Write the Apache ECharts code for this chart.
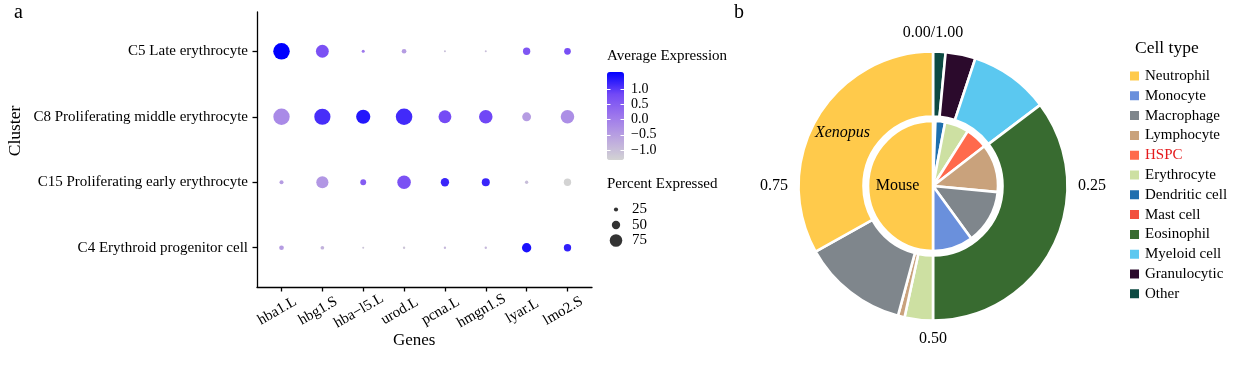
<!DOCTYPE html>
<html>
<head>
<meta charset="utf-8">
<script src="https://cdn.jsdelivr.net/npm/echarts@6/dist/echarts.min.js"></script>
<style>html,body{margin:0;padding:0;background:#fff;}#c{width:1241px;height:375px;}</style>
</head>
<body>
<div id="c"></div>
<script>
// ---- Panel a: dot plot data ----
const genes = ['hba1.L','hbg1.S','hba\u2212l5.L','urod.L','pcna.L','hmgn1.S','lyar.L','lmo2.S'];
const clusters = ['C5 Late erythrocyte','C8 Proliferating middle erythrocyte','C15 Proliferating early erythrocyte','C4 Erythroid progenitor cell'];
const pctC5  = [99, 77, 18, 28, 12, 12, 44, 40];
const pctC8  = [98, 97, 85, 99, 77, 81, 53, 81];
const pctC15 = [24, 73, 35, 81, 50, 48, 20, 44];
const pctC4  = [28, 22, 12, 14, 14, 14, 56, 44];
const expC5  = [1.57, 0.70, 0.10, -0.46, -1.00, -1.00, 0.63, 0.74];
const expC8  = [-0.18, 1.12, 1.35, 1.15, 0.80, 0.86, -0.46, -0.24];
const expC15 = [-0.46, -0.38, 0.54, 0.69, 1.20, 1.20, -0.98, -1.33];
const expC4  = [-0.46, -0.81, -1.10, -1.10, -0.90, -0.90, 1.40, 1.26];
const expRange = [-1.33, 1.57];
const expTicks = [-1, -0.5, 0, 0.5, 1];
const sizeLegend = [25, 50, 75];

// ---- Panel b: pie data ----
const cellTypes = ['Neutrophil','Monocyte','Macrophage','Lymphocyte','HSPC','Erythrocyte','Dendritic cell','Mast cell','Eosinophil','Myeloid cell','Granulocytic','Other'];
const mouseFrac   = [0.500, 0.100, 0.135, 0.120, 0.055, 0.060, 0.024, 0.006, 0, 0, 0, 0];
const xenopusFrac = [0.331, 0, 0.127, 0.008, 0, 0.034, 0, 0, 0.353, 0.096, 0.036, 0.015];
const cellColors  = ['#FFCA4B','#6A90DC','#7F868C','#C9A27C','#FF6A4C','#CDE0A2','#1F6FAE','#F2513F','#386B30','#5BC8F0','#2B0A2C','#0D4A42'];
const angleTicks = [0, 0.25, 0.5, 0.75];

const FONT = "'Liberation Serif','Times New Roman',serif";
const pctRows = [pctC5, pctC8, pctC15, pctC4];
const expRows = [expC5, expC8, expC15, expC4];
const dots = [];
pctRows.forEach((row, r) => row.forEach((p, g) => dots.push([g, r, p, expRows[r][g]])));
const SIZE_K = 0.167;

function pieData(fr, seriesName, italic) {
  const out = [];
  for (let i = cellTypes.length - 1; i >= 0; i--) {
    if (fr[i] <= 0) continue;
    const item = { name: cellTypes[i], value: fr[i], itemStyle: { color: cellColors[i] } };
    if (cellTypes[i] === 'Neutrophil') {
      item.label = { show: true, position: 'inside', formatter: seriesName, color: '#000',
        fontFamily: FONT, fontSize: 16, fontStyle: italic ? 'italic' : 'normal' };
    }
    out.push(item);
  }
  return out;
}
const fmtMinus = v => (v < 0 ? '\u2212' + Math.abs(v).toFixed(1) : v.toFixed(1));

const chart = echarts.init(document.getElementById('c'), null, { renderer: 'canvas' });
chart.setOption({
  animation: false,
  backgroundColor: '#fff',
  textStyle: { fontFamily: FONT, color: '#000' },
  title: [
    { text: 'a', left: 14, top: 3, padding: 0, textStyle: { fontFamily: FONT, fontSize: 20, fontWeight: 'normal', color: '#000' } },
    { text: 'b', left: 734, top: 3, padding: 0, textStyle: { fontFamily: FONT, fontSize: 20, fontWeight: 'normal', color: '#000' } },
    { text: 'Genes', left: 393, top: 332, padding: 0, textStyle: { fontFamily: FONT, fontSize: 17, fontWeight: 'normal', color: '#000' } },
    { text: 'Average Expression', left: 607, top: 49, padding: 0, textStyle: { fontFamily: FONT, fontSize: 15, fontWeight: 'normal', color: '#000' } },
    { text: 'Percent Expressed', left: 607, top: 177, padding: 0, textStyle: { fontFamily: FONT, fontSize: 15, fontWeight: 'normal', color: '#000' } },
    { text: 'Cell type', left: 1135, top: 39, padding: 0, textStyle: { fontFamily: FONT, fontSize: 17.5, fontWeight: 'normal', color: '#000' } }
  ],
  graphic: [
    { type: 'text', x: 15, y: 131, rotation: Math.PI / 2,
      style: { text: 'Cluster', fontFamily: FONT, fontSize: 17.5, fill: '#000', align: 'center', verticalAlign: 'middle' } }
  ],
  grid: [
    { left: 257, top: 12, width: 335, height: 275 },
    { left: 607, top: 72, width: 17, height: 88 },
    { left: 605, top: 201.75, width: 22, height: 46.5 }
  ],
  xAxis: [
    { gridIndex: 0, type: 'value', min: -0.6, max: 7.6,
      axisLine: { show: true, onZero: false, lineStyle: { color: '#000', width: 1.3 } },
      axisTick: { show: true, length: 4.5, lineStyle: { color: '#000', width: 1.3 }, customValues: genes.map((g, i) => i) },
      axisLabel: { customValues: genes.map((g, i) => i), formatter: v => genes[Math.round(v)] || '',
        rotate: 30, align: 'center', verticalAlign: 'middle', margin: 21.5, padding: [0, 10, 0, 0],
        fontFamily: FONT, fontSize: 15, color: '#000' },
      splitLine: { show: false } },
    { gridIndex: 1, type: 'value', min: 0, max: 1, show: false },
    { gridIndex: 2, type: 'value', min: -1, max: 1, show: false }
  ],
  yAxis: [
    { gridIndex: 0, type: 'value', min: -0.6, max: 3.6, inverse: true,
      axisLine: { show: true, onZero: false, lineStyle: { color: '#000', width: 1.3 } },
      axisTick: { show: true, length: 4.5, lineStyle: { color: '#000', width: 1.3 }, customValues: clusters.map((c, i) => i) },
      axisLabel: { customValues: clusters.map((c, i) => i), formatter: v => clusters[Math.round(v)] || '',
        margin: 9, fontFamily: FONT, fontSize: 15, color: '#000' },
      splitLine: { show: false } },
    { gridIndex: 1, type: 'value', min: expRange[0], max: expRange[1], position: 'left', z: 10,
      axisLine: { show: false, onZero: false }, splitLine: { show: false },
      axisTick: { show: true, inside: true, length: 3.5, lineStyle: { color: '#fff', width: 1 }, customValues: expTicks },
      axisLabel: { show: false } },
    { gridIndex: 1, type: 'value', min: expRange[0], max: expRange[1], position: 'right', z: 10,
      axisLine: { show: false, onZero: false }, splitLine: { show: false },
      axisTick: { show: true, inside: true, length: 3.5, lineStyle: { color: '#fff', width: 1 }, customValues: expTicks },
      axisLabel: { customValues: expTicks, formatter: fmtMinus, margin: 7, fontFamily: FONT, fontSize: 14, color: '#000' } },
    { gridIndex: 2, type: 'value', min: -0.5, max: 2.5, inverse: true, position: 'right',
      axisLine: { show: false, onZero: false }, splitLine: { show: false }, axisTick: { show: false },
      axisLabel: { customValues: sizeLegend.map((s, i) => i), formatter: v => String(sizeLegend[Math.round(v)]),
        margin: 5, fontFamily: FONT, fontSize: 15, color: '#000' } }
  ],
  visualMap: [{
    type: 'continuous', min: expRange[0], max: expRange[1], dimension: 3, seriesIndex: 0,
    orient: 'vertical', left: 607, top: 72, itemWidth: 17, itemHeight: 88, padding: 0,
    calculable: false, hoverLink: false, text: null, z: 2,
    inRange: { color: ['#d3d3d3', '#bba5e0', '#9d77ec', '#7248f6', '#0000ff'] }
  }],
  polar: { center: [933, 186], radius: 134 },
  angleAxis: { type: 'value', min: 0, max: 1, interval: 0.25, startAngle: 90, clockwise: true,
    axisLine: { show: false }, axisTick: { show: false }, splitLine: { show: false },
    axisLabel: { margin: 11, fontFamily: FONT, fontSize: 16, color: '#000',
      formatter: v => (v === 0 ? '0.00/1.00' : (v >= 1 ? '' : v.toFixed(2))) } },
  radiusAxis: { type: 'value', min: 0, max: 1, show: false },
  legend: {
    orient: 'vertical', left: 1128, top: 68, padding: 0,
    itemWidth: 11, itemHeight: 11, itemGap: 3.8, icon: 'rect', selectedMode: false,
    textStyle: { fontFamily: FONT, fontSize: 15, color: '#000', lineHeight: 16 },
    data: cellTypes.map(n => (n === 'HSPC' ? { name: n, textStyle: { color: '#E41A1C' } } : { name: n }))
  },
  series: [
    { type: 'scatter', xAxisIndex: 0, yAxisIndex: 0, data: dots,
      symbolSize: d => d[2] * SIZE_K, itemStyle: { opacity: 1 }, silent: true },
    { type: 'scatter', xAxisIndex: 2, yAxisIndex: 3,
      data: sizeLegend.map((s, i) => [0, i, s]), symbolSize: d => d[2] * SIZE_K,
      itemStyle: { color: '#000' }, silent: true },
    { type: 'pie', name: 'Mouse', center: [933, 186], radius: [0, 65], startAngle: 90, clockwise: true,
      avoidLabelOverlap: false, silent: true, label: { show: false }, labelLine: { show: false },
      itemStyle: { borderColor: '#fff', borderWidth: 2.6 },
      data: pieData(mouseFrac, 'Mouse', false) },
    { type: 'pie', name: 'Xenopus', center: [933, 186], radius: [69.5, 134.5], startAngle: 90, clockwise: true,
      avoidLabelOverlap: false, silent: true, label: { show: false }, labelLine: { show: false },
      itemStyle: { borderColor: '#fff', borderWidth: 2.6 },
      data: pieData(xenopusFrac, 'Xenopus', true) }
  ]
});
</script>
</body>
</html>
